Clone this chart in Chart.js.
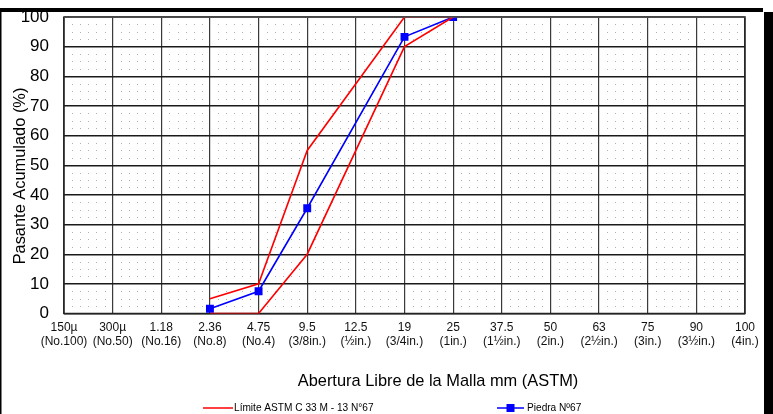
<!DOCTYPE html>
<html>
<head>
<meta charset="utf-8">
<script src="https://cdn.jsdelivr.net/npm/chart.js@4/dist/chart.umd.min.js"></script>
<style>
  html, body { margin: 0; padding: 0; background: #fff; }
  #wrap { position: relative; width: 773px; height: 414px; }
  canvas { display: block; }
</style>
</head>
<body>
<div id="wrap"><canvas id="c" width="773" height="414"></canvas></div>
<script>
// Sieve openings (mm) and their ASTM designations
const sieveSizes = ['150\u00b5', '300\u00b5', '1.18', '2.36', '4.75', '9.5', '12.5', '19', '25', '37.5', '50', '63', '75', '90', '100'];
const sieveNames = ['(No.100)', '(No.50)', '(No.16)', '(No.8)', '(No.4)', '(3/8in.)', '(\u00bdin.)', '(3/4in.)', '(1in.)', '(1\u00bdin.)', '(2in.)', '(2\u00bdin.)', '(3in.)', '(3\u00bdin.)', '(4in.)'];

// ASTM C 33 size No. 67 grading band (% passing)
const limitUpper = [null, null, null, 5, 10, 55, null, 100, 100, null, null, null, null, null, null];
const limitLower = [null, null, null, 0, 0, 20, null, 90, 100, null, null, null, null, null, null];

// Measured gradation of the stone (% passing)
const stonePassing = [null, null, null, 1.6, 7.5, 35.5, null, 93.3, 100, null, null, null, null, null, null];

const yTicks = [0, 10, 20, 30, 40, 50, 60, 70, 80, 90, 100];

const labels = sieveSizes.map((s, i) => [s, sieveNames[i]]);
const FONT = "'Liberation Sans', Arial, sans-serif";
const xTitle = 'Abertura Libre de la Malla mm (ASTM)';
const yTitle = 'Pasante Acumulado (%)';

// white page, frame bars, dotted background inside plot area
const backdrop = {
  id: 'backdrop',
  beforeDraw(chart) {
    const { ctx, scales: { x, y } } = chart;
    ctx.save();
    ctx.fillStyle = '#fff';
    ctx.fillRect(0, 0, chart.width, chart.height);
    ctx.fillStyle = '#b0b0b0';
    for (let i = 0; i < sieveSizes.length - 1; i++) {
      for (let k = 1; k < 6; k++) {
        const px = Math.round(x.getPixelForValue(i + k / 6));
        for (let v = 0; v < 100; v += 2.5) {
          if (v % 10 === 0) continue;
          const py = Math.round(y.getPixelForValue(v));
          ctx.fillRect(px, py, 1, 1);
        }
      }
    }
    ctx.restore();
  },
  beforeDatasetsDraw(chart) {
    const { ctx, chartArea: a } = chart;
    ctx.save();
    ctx.strokeStyle = '#222';
    ctx.lineWidth = 1.5;
    ctx.strokeRect(a.left, a.top, a.right - a.left, a.bottom - a.top);
    ctx.restore();
  },
  afterDatasetsDraw(chart) {
    const { ctx, chartArea: a } = chart;
    ctx.save();
    ctx.strokeStyle = '#555';
    ctx.lineWidth = 1.6;
    ctx.beginPath();
    ctx.moveTo(a.left, a.top);
    ctx.lineTo(a.right, a.top);
    ctx.stroke();
    ctx.restore();
  },
  afterDraw(chart) {
    const { ctx } = chart;
    ctx.save();
    ctx.fillStyle = '#000';
    ctx.fillRect(0, 8, 763, 4);
    ctx.fillRect(0, 11, 1.5, chart.height - 11);
    ctx.fillRect(764, 12, 9, chart.height - 12);
    ctx.restore();
  }
};

// axis titles and legend row
const captions = {
  id: 'captions',
  afterDraw(chart) {
    const { ctx } = chart;
    ctx.save();
    ctx.fillStyle = '#000';
    ctx.textBaseline = 'middle';
    ctx.textAlign = 'center';
    ctx.font = '16.4px ' + FONT;
    ctx.fillText(xTitle, 438, 381);

    ctx.save();
    ctx.translate(20, 176);
    ctx.rotate(-Math.PI / 2);
    ctx.fillText(yTitle, 0, 0);
    ctx.restore();

    const yL = 408;
    ctx.textAlign = 'left';
    ctx.font = '11px ' + FONT;
    const red = chart.data.datasets[0];
    ctx.strokeStyle = red.borderColor;
    ctx.lineWidth = 1.5;
    ctx.beginPath(); ctx.moveTo(203, yL); ctx.lineTo(233, yL); ctx.stroke();
    ctx.save();
    ctx.translate(234, yL);
    ctx.scale(0.92, 1);
    ctx.fillText(red.label, 0, 0);
    ctx.restore();

    const blue = chart.data.datasets[2];
    ctx.strokeStyle = blue.borderColor;
    ctx.beginPath(); ctx.moveTo(497, yL); ctx.lineTo(524, yL); ctx.stroke();
    ctx.fillStyle = blue.pointBackgroundColor;
    ctx.fillRect(506.5, yL - 4, 8, 8);
    ctx.fillStyle = '#000';
    ctx.save();
    ctx.translate(527, yL);
    ctx.scale(0.92, 1);
    ctx.fillText(blue.label, 0, 0);
    ctx.restore();
    ctx.restore();
  }
};

new Chart(document.getElementById('c'), {
  type: 'line',
  data: {
    labels: labels,
    datasets: [
      {
        label: 'L\u00edmite ASTM C 33 M - 13 N\u00b067',
        data: limitUpper,
        borderColor: '#ff0000',
        borderWidth: 1.6,
        pointRadius: 0,
        spanGaps: true,
        tension: 0
      },
      {
        label: 'L\u00edmite ASTM C 33 M - 13 N\u00b067 (inf.)',
        data: limitLower,
        borderColor: '#ff0000',
        borderWidth: 1.6,
        pointRadius: 0,
        spanGaps: true,
        tension: 0
      },
      {
        label: 'Piedra N\u00ba67',
        data: stonePassing,
        borderColor: '#0000ff',
        borderWidth: 1.6,
        pointStyle: 'rect',
        pointRadius: 5.6,
        pointBackgroundColor: '#0000ff',
        pointBorderColor: '#0000ff',
        pointBorderWidth: 0,
        spanGaps: true,
        tension: 0
      }
    ]
  },
  options: {
    responsive: false,
    animation: false,
    events: [],
    layout: { padding: { left: 0, right: 28, top: 17, bottom: 22 } },
    plugins: {
      legend: { display: false },
      tooltip: { enabled: false },
      title: { display: false }
    },
    scales: {
      x: {
        type: 'category',
        offset: false,
        afterFit(s) { s.height = 78.5; s.paddingLeft = 0; s.paddingRight = 0; },
        grid: { color: '#3a3a3a', lineWidth: 1.2, drawTicks: false },
        border: { display: false },
        ticks: {
          autoSkip: false,
          maxRotation: 0,
          padding: 7,
          color: '#111',
          font: { family: FONT, size: 12, lineHeight: 1.15 }
        },
        title: { display: false }
      },
      y: {
        min: 0,
        max: 100,
        afterFit(s) { s.width = 64; s.paddingTop = 0; s.paddingBottom = 0; },
        afterBuildTicks(s) { s.ticks = yTicks.map(v => ({ value: v })); },
        grid: { color: '#1a1a1a', lineWidth: 1.4, borderDash: [3, 1], drawTicks: false },
        border: { display: false },
        ticks: {
          padding: 15,
          color: '#000',
          font: { family: FONT, size: 17 }
        },
        title: { display: false }
      }
    }
  },
  plugins: [backdrop, captions]
});
</script>
</body>
</html>
